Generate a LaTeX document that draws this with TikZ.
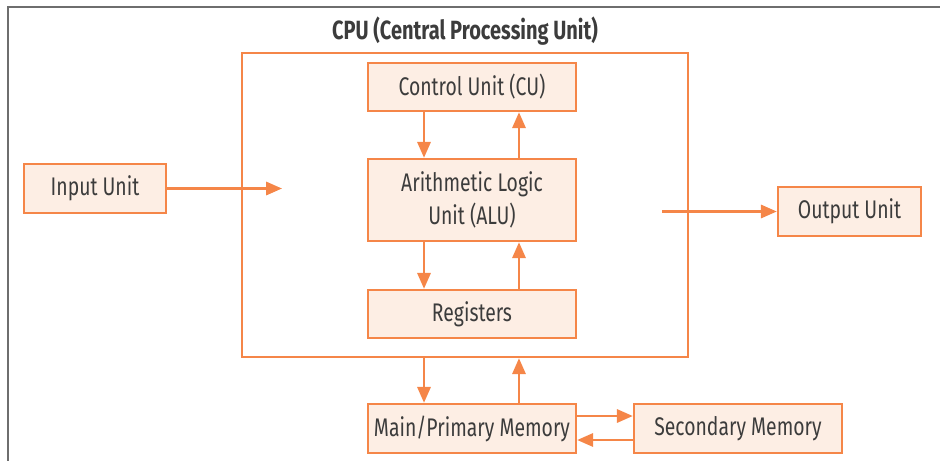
\documentclass[tikz,border=0pt]{standalone}
\usepackage{fontspec}
\setmainfont{Fira Sans}[FakeStretch=0.76]
\usepackage{tikz}
\usetikzlibrary{arrows.meta, positioning}
\definecolor{cpuorange}{RGB}{245,134,72}
\definecolor{unitfill}{RGB}{253,238,228}
\definecolor{textdark}{RGB}{60,60,60}
\definecolor{framegray}{RGB}{110,110,110}

\begin{document}
\begin{tikzpicture} [
    x=0.02cm, y=-0.02cm,
    unit/.style={rectangle, draw=cpuorange, line width=1.4pt, fill=unitfill, minimum width=4.16cm, minimum height=0.96cm, text centered, align=center, text=textdark, font=\fontsize{14.5}{19}\selectfont},
    cpubox/.style={rectangle, draw=cpuorange, line width=1.4pt, minimum width=8.92cm, minimum height=6.08cm},
    flow/.style={-{Triangle[length=9pt,width=7.5pt]}, line width=1.4pt, draw=cpuorange}
]
    \useasboundingbox (0,0) rectangle (940,461);

    % Page frame
    \draw[framegray, line width=1.1pt] (940,7) -- (8,7) -- (8,461);

    % CPU box and title
    \node[cpubox] (cpu_box) at (465,205) {};
    \node[text=textdark, font=\bfseries\fontsize{15}{19}\selectfont] (cpu_title) at (465,31) {CPU (Central Processing Unit)};

    % Units inside the CPU
    \node[unit] (control_unit) at (472,87) {Control Unit (CU)};
    \node[unit, minimum height=1.64cm] (alu) at (472,200) {Arithmetic Logic\\ Unit (ALU)};
    \node[unit] (registers) at (472,314) {Registers};

    % Input and output
    \node[unit, minimum width=2.84cm, minimum height=0.98cm] (input_unit) at (95,188.5) {Input Unit};
    \node[unit, minimum width=2.86cm, minimum height=0.98cm] (output_unit) at (849.5,211.5) {Output Unit};
    \coordinate (input_end) at (282,188.5);
    \coordinate (output_start) at (662,211.5);

    % Memory
    \node[unit, minimum height=0.98cm] (main_memory) at (472,428.5) {Main/Primary Memory};
    \node[unit, minimum height=0.98cm] (secondary_memory) at (738,428.5) {Secondary Memory};

    % Flows
    \draw[flow] (input_unit.east) -- (input_end);
    \draw[flow] (output_start) -- (output_unit.west);

    \draw[flow] ([xshift=-0.96cm]control_unit.south) -- ([xshift=-0.96cm]alu.north);
    \draw[flow] ([xshift=0.94cm]alu.north) -- ([xshift=0.94cm]control_unit.south);
    \draw[flow] ([xshift=-0.96cm]alu.south) -- ([xshift=-0.96cm]registers.north);
    \draw[flow] ([xshift=0.94cm]registers.north) -- ([xshift=0.94cm]alu.south);

    \draw[flow] ([xshift=-0.96cm]main_memory.north |- cpu_box.south) -- ([xshift=-0.96cm]main_memory.north);
    \draw[flow] ([xshift=0.94cm]main_memory.north) -- ([xshift=0.94cm]main_memory.north |- cpu_box.south);

    \draw[flow] ([yshift=0.25cm]main_memory.east) -- ([yshift=0.25cm]secondary_memory.west);
    \draw[flow] ([yshift=-0.23cm]secondary_memory.west) -- ([yshift=-0.23cm]main_memory.east);
\end{tikzpicture}
\end{document}
